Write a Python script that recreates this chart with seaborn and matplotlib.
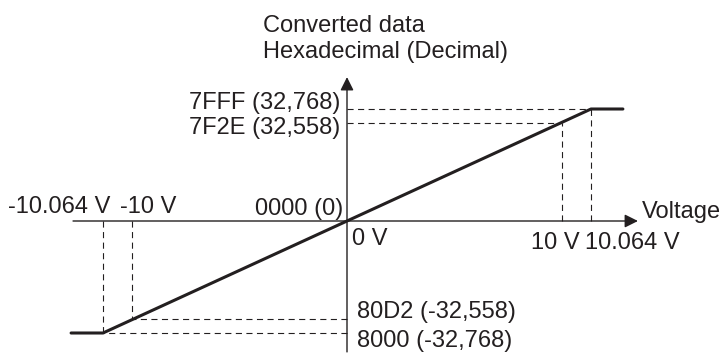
import matplotlib
matplotlib.use("Agg")
import matplotlib.pyplot as plt
import seaborn as sns
import pandas as pd

# transfer curve (schematic, not to scale)
curve_v = [-11.38, -10.064, 10.064, 11.38]
curve_code = [-32768, -32768, 32768, 32768]

# guide points: voltage position on the drawing and code position
guide_v = [-10.064, -8.86, 8.86, 10.064]
guide_code = [-32768, -28700, 28700, 32768]

volt_labels = ["-10.064 V", "-10 V", "10 V", "10.064 V"]
code_labels = ["8000 (-32,768)", "80D2 (-32,558)", "7F2E (32,558)", "7FFF (32,768)"]

sns.set_style("white")
plt.rcParams["font.family"] = ["Liberation Sans", "DejaVu Sans"]

ink = "#231f20"
fs = 17

fig = plt.figure(figsize=(7.24, 3.56), dpi=100)
ax = fig.add_axes([0, 0, 1, 1])

# px -> data: 24.245 px per volt, 292.57 counts per px, origin at (347, 221)
ax.set_xlim(-347 / 24.245, (724 - 347) / 24.245)
ax.set_ylim(-(356 - 221) * 292.57, 221 * 292.57)
ax.set_axis_off()

x_axis = (-11.30, 12.0)
y_axis = (-38300, 42100)

arrow = dict(arrowstyle="-|>,head_length=0.8,head_width=0.4", color=ink,
             lw=1.0, shrinkA=0, shrinkB=0, mutation_scale=10)
ax.annotate("", xy=(x_axis[1], 0), xytext=(x_axis[0], 0), arrowprops=arrow)
ax.annotate("", xy=(0, y_axis[1]), xytext=(0, y_axis[0]), arrowprops=arrow)

# dashed guides
for gv, gc in zip(guide_v, guide_code):
    ax.plot([gv, gv], [0, gc], color=ink, lw=0.8, ls=(0, (5.5, 4)))
    ax.plot([0, gv], [gc, gc], color=ink, lw=0.8, ls=(0, (5.5, 4)))

df = pd.DataFrame({"v": curve_v, "code": curve_code})
sns.lineplot(data=df, x="v", y="code", ax=ax, color=ink, lw=2.2, sort=False)
ax.set_axis_off()

def label(txt, xy, off, ha):
    ax.annotate(txt, xy=xy, xytext=off, textcoords="offset pixels",
                ha=ha, va="baseline", fontsize=fs, color=ink)

# voltage labels
label(volt_labels[0], (guide_v[0], 0), (-95, 8), "left")
label(volt_labels[1], (guide_v[1], 0), (-12, 8), "left")
label(volt_labels[2], (guide_v[2], 0), (-31, -28), "left")
label(volt_labels[3], (guide_v[3], 0), (-6, -28), "left")

# code labels
label(code_labels[0], (0, guide_code[0]), (10, -14), "left")
label(code_labels[1], (0, guide_code[1]), (10, 1), "left")
label(code_labels[2], (0, guide_code[2]), (-7, -11), "right")
label(code_labels[3], (0, guide_code[3]), (-7, 0), "right")

label("0000 (0)", (0, 0), (-4, 6), "right")
label("0 V", (0, 0), (5, -24), "left")
label("Voltage", (x_axis[1], 0), (4, 3), "left")
label("Converted data", (0, y_axis[1]), (-84, 45), "left")
label("Hexadecimal (Decimal)", (0, y_axis[1]), (-84, 19), "left")

fig.savefig("out.png", dpi=100)
